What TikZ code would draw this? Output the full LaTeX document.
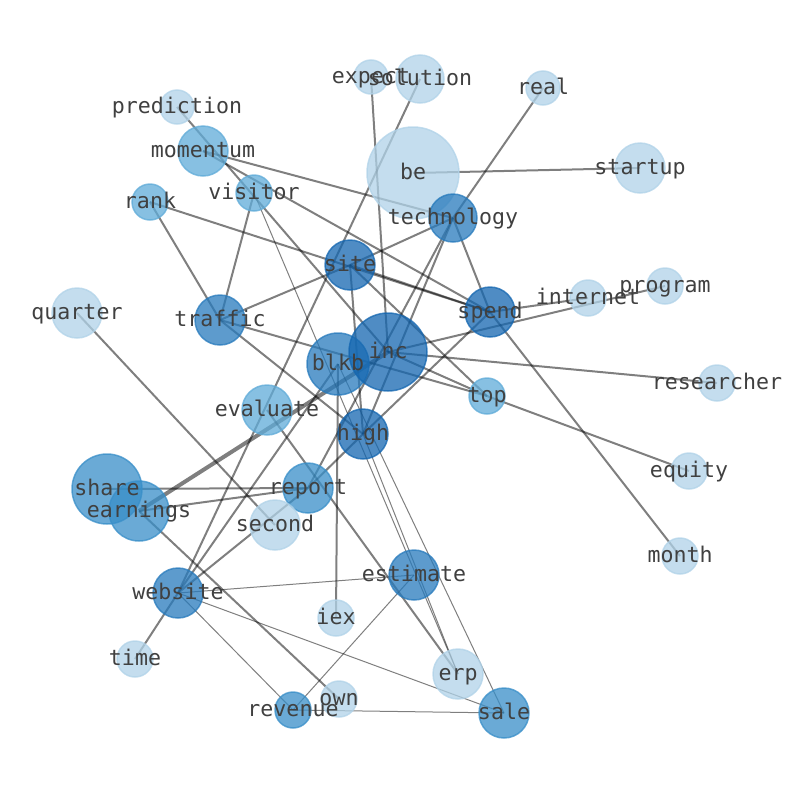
\documentclass[tikz,border=0pt]{standalone}
\usepackage{fontspec}
\setmonofont{DejaVu Sans Mono}
\definecolor{azulA}{RGB}{20,102,176}
\definecolor{azulB}{RGB}{39,122,188}
\definecolor{azulC}{RGB}{56,142,200}
\definecolor{azulD}{RGB}{95,171,216}
\definecolor{azulE}{RGB}{176,210,232}
\definecolor{grisTexto}{RGB}{64,64,64}

\begin{document}
\begin{tikzpicture}[x=1pt, y=-1pt,
    arista/.style={line width=2pt, draw=black, draw opacity=0.5},
    fina/.style={arista, line width=1pt},
    gruesa/.style={arista, line width=4pt},
    nodo/.style={circle, inner sep=0pt, line width=1.5pt, fill opacity=0.75, draw opacity=0.75},
    tonoA/.style={nodo, fill=azulA, draw=azulA},
    tonoB/.style={nodo, fill=azulB, draw=azulB},
    tonoC/.style={nodo, fill=azulC, draw=azulC},
    tonoD/.style={nodo, fill=azulD, draw=azulD},
    tonoE/.style={nodo, fill=azulE, draw=azulE},
    etiqueta/.style={font=\ttfamily\fontsize{21.6}{24}\selectfont, text=grisTexto,
        inner sep=0pt, text height=17pt, text depth=4pt}]
    \useasboundingbox (0,0) rectangle (794,790);

    % Posiciones de los terminos
    \coordinate (expect) at (371,77);
    \coordinate (solution) at (420,79);
    \coordinate (real) at (543,88);
    \coordinate (prediction) at (177,107);
    \coordinate (momentum) at (203,151);
    \coordinate (be) at (413,173);
    \coordinate (startup) at (640,168);
    \coordinate (visitor) at (254,193);
    \coordinate (rank) at (150,202);
    \coordinate (technology) at (453,218);
    \coordinate (site) at (350,265);
    \coordinate (program) at (665,286);
    \coordinate (internet) at (588,298);
    \coordinate (spend) at (490,312);
    \coordinate (quarter) at (77,313);
    \coordinate (traffic) at (220,320);
    \coordinate (inc) at (388,352);
    \coordinate (blkb) at (338,364);
    \coordinate (researcher) at (717,383);
    \coordinate (top) at (487,396);
    \coordinate (evaluate) at (267,410);
    \coordinate (high) at (363,434);
    \coordinate (equity) at (689,471);
    \coordinate (share) at (107,489);
    \coordinate (report) at (308,488);
    \coordinate (earnings) at (139,511);
    \coordinate (second) at (275,525);
    \coordinate (month) at (680,556);
    \coordinate (estimate) at (414,575);
    \coordinate (website) at (178,593);
    \coordinate (iex) at (336,618);
    \coordinate (time) at (135,659);
    \coordinate (erp) at (458,674);
    \coordinate (own) at (339,699);
    \coordinate (revenue) at (293,710);
    \coordinate (sale) at (504,713);

    % Aristas
    \draw[arista] (be) -- (startup);
    \draw[arista] (expect) -- (inc);
    \draw[arista] (solution) -- (website);
    \draw[arista] (real) -- (technology);
    \draw[arista] (prediction) -- (inc);
    \draw[arista] (momentum) -- (technology);
    \draw[arista] (momentum) -- (spend);
    \draw[arista] (visitor) -- (traffic);
    \draw[arista] (rank) -- (traffic);
    \draw[arista] (rank) -- (spend);
    \draw[arista] (site) -- (spend);
    \draw[arista] (site) -- (traffic);
    \draw[arista] (site) -- (technology);
    \draw[arista] (site) -- (top);
    \draw[arista] (site) -- (high);
    \draw[arista] (technology) -- (spend);
    \draw[arista] (technology) -- (report);
    \draw[arista] (technology) -- (high);
    \draw[arista] (spend) -- (internet);
    \draw[arista] (spend) -- (month);
    \draw[arista] (spend) -- (high);
    \draw[arista] (inc) -- (program);
    \draw[arista] (inc) -- (researcher);
    \draw[arista] (inc) -- (top);
    \draw[arista] (top) -- (equity);
    \draw[arista] (traffic) -- (top);
    \draw[arista] (traffic) -- (high);
    \draw[arista] (blkb) -- (iex);
    \draw[arista] (blkb) -- (website);
    \draw[arista] (share) -- (report);
    \draw[arista] (earnings) -- (report);
    \draw[arista] (high) -- (report);
    \draw[arista] (website) -- (report);
    \draw[arista] (website) -- (time);
    \draw[arista] (evaluate) -- (erp);
    \draw[arista] (earnings) -- (own);
    \draw[arista] (quarter) -- (second);
    \draw[gruesa] (inc) -- (earnings);
    \draw[fina] (visitor) -- (erp);
    \draw[fina] (high) -- (erp);
    \draw[fina] (blkb) -- (sale);
    \draw[fina] (website) -- (estimate);
    \draw[fina] (website) -- (sale);
    \draw[fina] (website) -- (revenue);
    \draw[fina] (estimate) -- (revenue);
    \draw[fina] (revenue) -- (sale);

    % Circulos (tamano segun frecuencia)
    \node[tonoE, minimum size=34pt] (c-expect) at (expect) {};
    \node[tonoE, minimum size=48pt] (c-solution) at (solution) {};
    \node[tonoE, minimum size=34pt] (c-real) at (real) {};
    \node[tonoE, minimum size=34pt] (c-prediction) at (prediction) {};
    \node[tonoD, minimum size=50pt] (c-momentum) at (momentum) {};
    \node[tonoE, minimum size=92pt] (c-be) at (be) {};
    \node[tonoE, minimum size=50pt] (c-startup) at (startup) {};
    \node[tonoD, minimum size=36pt] (c-visitor) at (visitor) {};
    \node[tonoD, minimum size=36pt] (c-rank) at (rank) {};
    \node[tonoB, minimum size=48pt] (c-technology) at (technology) {};
    \node[tonoA, minimum size=50pt] (c-site) at (site) {};
    \node[tonoE, minimum size=36pt] (c-program) at (program) {};
    \node[tonoE, minimum size=36pt] (c-internet) at (internet) {};
    \node[tonoA, minimum size=50pt] (c-spend) at (spend) {};
    \node[tonoE, minimum size=50pt] (c-quarter) at (quarter) {};
    \node[tonoB, minimum size=50pt] (c-traffic) at (traffic) {};
    \node[tonoB, minimum size=62pt] (c-blkb) at (blkb) {};
    \node[tonoA, minimum size=78pt] (c-inc) at (inc) {};
    \node[tonoE, minimum size=36pt] (c-researcher) at (researcher) {};
    \node[tonoD, minimum size=36pt] (c-top) at (top) {};
    \node[tonoD, minimum size=50pt] (c-evaluate) at (evaluate) {};
    \node[tonoA, minimum size=50pt] (c-high) at (high) {};
    \node[tonoE, minimum size=36pt] (c-equity) at (equity) {};
    \node[tonoC, minimum size=70pt] (c-share) at (share) {};
    \node[tonoC, minimum size=50pt] (c-report) at (report) {};
    \node[tonoC, minimum size=60pt] (c-earnings) at (earnings) {};
    \node[tonoE, minimum size=50pt] (c-second) at (second) {};
    \node[tonoE, minimum size=36pt] (c-month) at (month) {};
    \node[tonoB, minimum size=50pt] (c-estimate) at (estimate) {};
    \node[tonoB, minimum size=50pt] (c-website) at (website) {};
    \node[tonoE, minimum size=36pt] (c-iex) at (iex) {};
    \node[tonoE, minimum size=36pt] (c-time) at (time) {};
    \node[tonoE, minimum size=50pt] (c-erp) at (erp) {};
    \node[tonoE, minimum size=36pt] (c-own) at (own) {};
    \node[tonoC, minimum size=36pt] (c-revenue) at (revenue) {};
    \node[tonoC, minimum size=50pt] (c-sale) at (sale) {};

    % Etiquetas
    \node[etiqueta] (t-expect) at (expect) {expect};
    \node[etiqueta] (t-solution) at (solution) {solution};
    \node[etiqueta] (t-real) at (real) {real};
    \node[etiqueta] (t-prediction) at (prediction) {prediction};
    \node[etiqueta] (t-momentum) at (momentum) {momentum};
    \node[etiqueta] (t-be) at (be) {be};
    \node[etiqueta] (t-startup) at (startup) {startup};
    \node[etiqueta] (t-visitor) at (visitor) {visitor};
    \node[etiqueta] (t-rank) at (rank) {rank};
    \node[etiqueta] (t-technology) at (technology) {technology};
    \node[etiqueta] (t-site) at (site) {site};
    \node[etiqueta] (t-program) at (program) {program};
    \node[etiqueta] (t-internet) at (internet) {internet};
    \node[etiqueta] (t-spend) at (spend) {spend};
    \node[etiqueta] (t-quarter) at (quarter) {quarter};
    \node[etiqueta] (t-traffic) at (traffic) {traffic};
    \node[etiqueta] (t-blkb) at (blkb) {blkb};
    \node[etiqueta] (t-inc) at (inc) {inc};
    \node[etiqueta] (t-researcher) at (researcher) {researcher};
    \node[etiqueta] (t-top) at (top) {top};
    \node[etiqueta] (t-evaluate) at (evaluate) {evaluate};
    \node[etiqueta] (t-high) at (high) {high};
    \node[etiqueta] (t-equity) at (equity) {equity};
    \node[etiqueta] (t-share) at (share) {share};
    \node[etiqueta] (t-report) at (report) {report};
    \node[etiqueta] (t-earnings) at (earnings) {earnings};
    \node[etiqueta] (t-second) at (second) {second};
    \node[etiqueta] (t-month) at (month) {month};
    \node[etiqueta] (t-estimate) at (estimate) {estimate};
    \node[etiqueta] (t-website) at (website) {website};
    \node[etiqueta] (t-iex) at (iex) {iex};
    \node[etiqueta] (t-time) at (time) {time};
    \node[etiqueta] (t-erp) at (erp) {erp};
    \node[etiqueta] (t-own) at (own) {own};
    \node[etiqueta] (t-revenue) at (revenue) {revenue};
    \node[etiqueta] (t-sale) at (sale) {sale};
\end{tikzpicture}
\end{document}
